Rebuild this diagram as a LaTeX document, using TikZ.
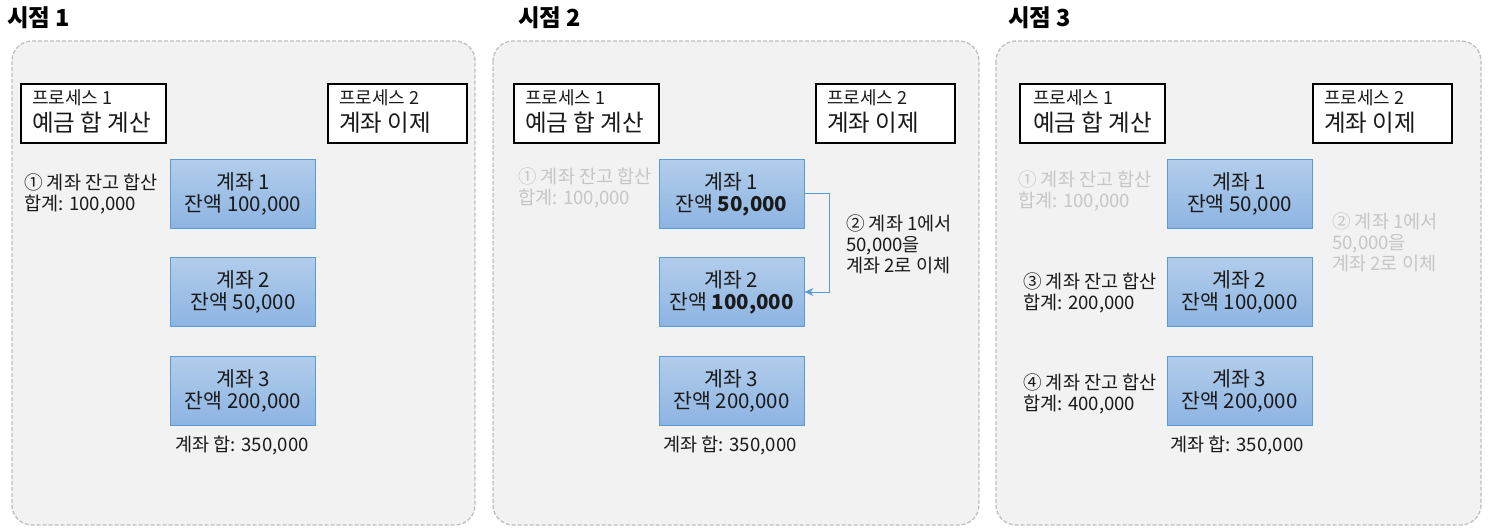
\documentclass[tikz,border=0pt]{standalone}
\usepackage{fontspec}
\setmainfont{Noto Sans CJK KR}
\usetikzlibrary{arrows.meta}
\definecolor{panelfill}{HTML}{F2F2F2}
\definecolor{panelborder}{HTML}{BFBFBF}
\definecolor{accttop}{HTML}{B2CDEB}
\definecolor{acctbot}{HTML}{8DB4E2}
\definecolor{acctborder}{HTML}{5B9BD5}
\definecolor{fadedtext}{HTML}{C6C6C6}
\definecolor{maintext}{HTML}{1A1A1A}
\newcommand{\myfs}[2]{\fontsize{#1}{#2}\selectfont}
\begin{document}
\begin{tikzpicture}[x=1pt,y=-1pt,
  panel/.style={draw=panelborder, fill=panelfill, dash pattern=on 4pt off 2pt, line width=1.3pt, rounded corners=20pt},
  titletext/.style={anchor=west, inner sep=0pt, font=\myfs{23.5}{28}\bfseries, text=black},
  proc/.style={draw=black, line width=2pt, fill=white, minimum height=59pt, inner sep=0pt},
  psmall/.style={anchor=west, inner sep=0pt, font=\myfs{18}{21}, text=maintext},
  pbig/.style={anchor=west, inner sep=0pt, font=\myfs{23.5}{28}, text=maintext},
  acct/.style={draw=acctborder, line width=1pt, top color=accttop, bottom color=acctbot, minimum width=145pt, minimum height=69pt, align=center, inner sep=0pt, font=\myfs{20.5}{22}, text=maintext},
  note/.style={anchor=west, inner sep=0pt, align=left, font=\myfs{18.6}{21}, text=maintext},
  fadednote/.style={note, text=fadedtext},
  sumtext/.style={inner sep=0pt, font=\myfs{18.6}{22}, text=maintext},
  flow/.style={draw=acctborder, line width=1pt, -{Stealth[length=9pt,width=8pt]}}
]
\useasboundingbox (0,0) rectangle (1492,532);

% ---------- panels ----------
\draw[panel] (12,41) rectangle (475,525);
\draw[panel] (493,41) rectangle (979,525);
\draw[panel] (996,41) rectangle (1481,525);

% ---------- titles ----------
\node[titletext] (t1) at (7,18) {시점 1};
\node[titletext] (t2) at (518,18) {시점 2};
\node[titletext] (t3) at (1008,18) {시점 3};

% ---------- panel 1 ----------
\node[proc, minimum width=145pt] (p11) at (93,114) {};
\node[psmall] (p11a) at (32,98) {프로세스 1};
\node[pbig] (p11b) at (32,123) {예금 합 계산};
\node[proc, minimum width=139pt] (p12) at (397,114) {};
\node[psmall] (p12a) at (339,98) {프로세스 2};
\node[pbig] (p12b) at (339,123) {계좌 이제};

\node[acct] (a11) at (243,194) {계좌 1\\잔액 100,000};
\node[acct] (a12) at (243,292) {계좌 2\\잔액 50,000};
\node[acct] (a13) at (243,390.5) {계좌 3\\잔액 200,000};
\node[sumtext] (s1) at (242,445) {계좌 합: 350,000};

\node[note] (n11) at (24,194) {① 계좌 잔고 합산\\합계: 100,000};

% ---------- panel 2 ----------
\node[proc, minimum width=145pt] (p21) at (586,114) {};
\node[psmall] (p21a) at (525,98) {프로세스 1};
\node[pbig] (p21b) at (525,123) {예금 합 계산};
\node[proc, minimum width=139pt] (p22) at (885,114) {};
\node[psmall] (p22a) at (827,98) {프로세스 2};
\node[pbig] (p22b) at (827,123) {계좌 이제};

\node[acct] (a21) at (731.5,194) {계좌 1\\잔액 \textbf{50,000}};
\node[acct] (a22) at (731.5,292) {계좌 2\\잔액 \textbf{100,000}};
\node[acct] (a23) at (731.5,390.5) {계좌 3\\잔액 200,000};
\node[sumtext] (s2) at (730,445) {계좌 합: 350,000};

\node[fadednote] (n21) at (518,187.5) {① 계좌 잔고 합산\\합계: 100,000};
\node[note] (n22) at (846,244) {② 계좌 1에서\\50,000을\\계좌 2로 이체};

\draw[flow] (a21.east) -- ++(25,0) |- (a22.east);

% ---------- panel 3 ----------
\node[proc, minimum width=145pt] (p31) at (1092.5,114) {};
\node[psmall] (p31a) at (1033,98) {프로세스 1};
\node[pbig] (p31b) at (1033,123) {예금 합 계산};
\node[proc, minimum width=139pt] (p32) at (1382,114) {};
\node[psmall] (p32a) at (1324,98) {프로세스 2};
\node[pbig] (p32b) at (1324,123) {계좌 이제};

\node[acct] (a31) at (1239.5,194) {계좌 1\\잔액 50,000};
\node[acct] (a32) at (1239.5,292) {계좌 2\\잔액 100,000};
\node[acct] (a33) at (1239.5,390.5) {계좌 3\\잔액 200,000};
\node[sumtext] (s3) at (1237,445) {계좌 합: 350,000};

\node[fadednote] (n31) at (1018,190.5) {① 계좌 잔고 합산\\합계: 100,000};
\node[fadednote] (n32) at (1332,242) {② 계좌 1에서\\50,000을\\계좌 2로 이체};
\node[note] (n33) at (1023,292.5) {③ 계좌 잔고 합산\\합계: 200,000};
\node[note] (n34) at (1023,393.5) {④ 계좌 잔고 합산\\합계: 400,000};
\end{tikzpicture}
\end{document}
